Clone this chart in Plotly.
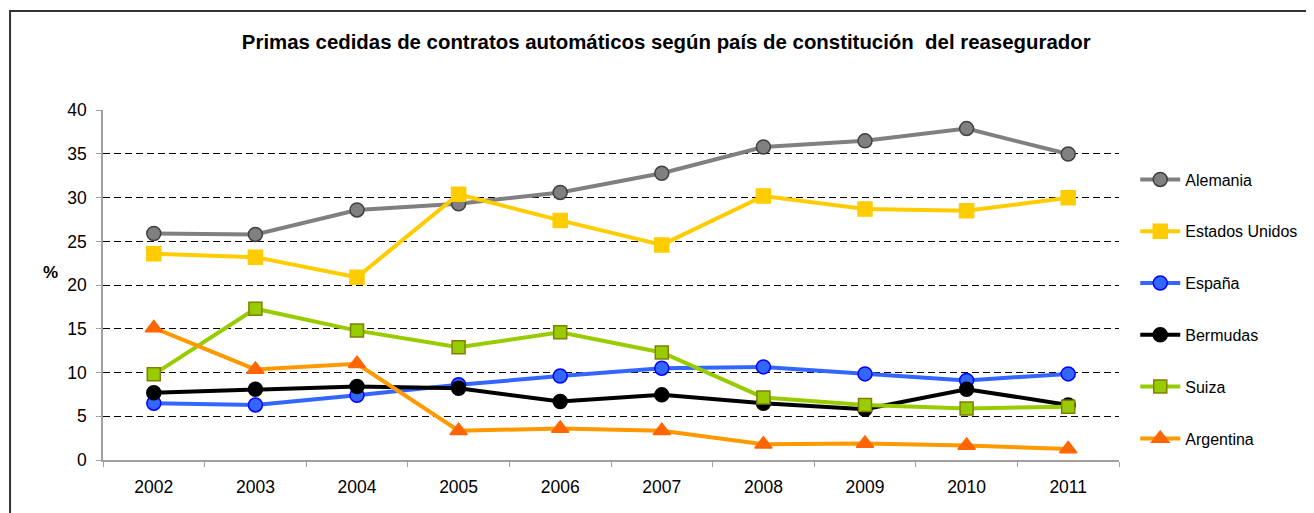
import plotly.graph_objects as go

years = ["2002", "2003", "2004", "2005", "2006", "2007", "2008", "2009", "2010", "2011"]
alemania = [25.9, 25.8, 28.6, 29.3, 30.6, 32.8, 35.8, 36.5, 37.9, 35.0]
estados_unidos = [23.6, 23.2, 20.9, 30.4, 27.4, 24.6, 30.2, 28.7, 28.5, 30.0]
espana = [6.5, 6.3, 7.4, 8.6, 9.6, 10.5, 10.65, 9.85, 9.1, 9.85]
bermudas = [7.7, 8.1, 8.4, 8.2, 6.7, 7.45, 6.5, 5.8, 8.1, 6.3]
suiza = [9.8, 17.3, 14.8, 12.9, 14.6, 12.3, 7.15, 6.3, 5.9, 6.1]
argentina = [15.1, 10.35, 11.0, 3.35, 3.6, 3.35, 1.8, 1.9, 1.65, 1.25]

series = [
    ("Alemania", alemania, "#808080", "circle", "#808080", "#404040", 14),
    ("Estados Unidos", estados_unidos, "#FFCC00", "square", "#FFCC00", "#FFCC00", 14),
    ("España", espana, "#3366FF", "circle", "#3366FF", "#0000FF", 14),
    ("Bermudas", bermudas, "#000000", "circle", "#000000", "#000000", 14),
    ("Suiza", suiza, "#99CC00", "square", "#99CC00", "#808000", 13),
    ("Argentina", argentina, "#FF9900", "triangle-up", "#FF6600", "#FF6600", 15),
]

fig = go.Figure()
for name, vals, lc, sym, mfill, medge, ms in series:
    fig.add_trace(go.Scatter(
        x=years, y=vals, name=name, mode="lines+markers",
        legendgroup=name,
        line=dict(color=lc, width=4),
        marker=dict(symbol=sym, color=mfill, size=ms, line=dict(color=medge, width=1.5)),
    ))

fig.update_layout(
    width=1306, height=505,
    paper_bgcolor="white", plot_bgcolor="white",
    margin=dict(l=95, r=195, t=102, b=53, autoexpand=False),
    font=dict(family="Liberation Sans, Arial, sans-serif", size=17, color="#000000"),
    title=dict(
        text="<b>Primas cedidas de contratos automáticos según país de constitución&nbsp; del reasegurador</b>",
        x=0.504, xanchor="center", y=0.933, yanchor="middle",
        font=dict(size=20.4, color="#000000"),
    ),
    showlegend=True,
    legend=dict(
        x=1.016, xanchor="left", y=0.85, yanchor="top",
        font=dict(size=16), tracegroupgap=28, itemwidth=40,
        bgcolor="rgba(0,0,0,0)",
    ),
    xaxis=dict(
        type="category", showgrid=False,
        showline=True, linecolor="#A0A0A0", linewidth=1.5,
        ticks="outside", tickson="boundaries", ticklen=5, tickcolor="#A0A0A0",
        tickfont=dict(size=17.5), range=[-0.5, 9.5], ticklabelstandoff=10,
    ),
    yaxis=dict(
        range=[0, 40.03], dtick=5, tick0=0,
        showgrid=True, gridcolor="#000000", griddash="7px,4px", gridwidth=1,
        showline=True, linecolor="#A0A0A0", linewidth=1.5,
        ticks="outside", ticklen=5, tickcolor="#A0A0A0",
        tickfont=dict(size=17.5), zeroline=False, ticklabelstandoff=6,
    ),
    shapes=[dict(
        type="rect", xref="paper", yref="paper",
        x0=-0.0915, x1=1.4, y0=-0.4, y1=1.283,
        line=dict(color="#333333", width=2), layer="below",
    )],
    annotations=[dict(
        text="<b>%</b>", xref="paper", yref="paper",
        x=-0.052, y=0.537, showarrow=False, font=dict(size=17),
        xanchor="center", yanchor="middle",
    )],
)

fig.write_html("out.html")
